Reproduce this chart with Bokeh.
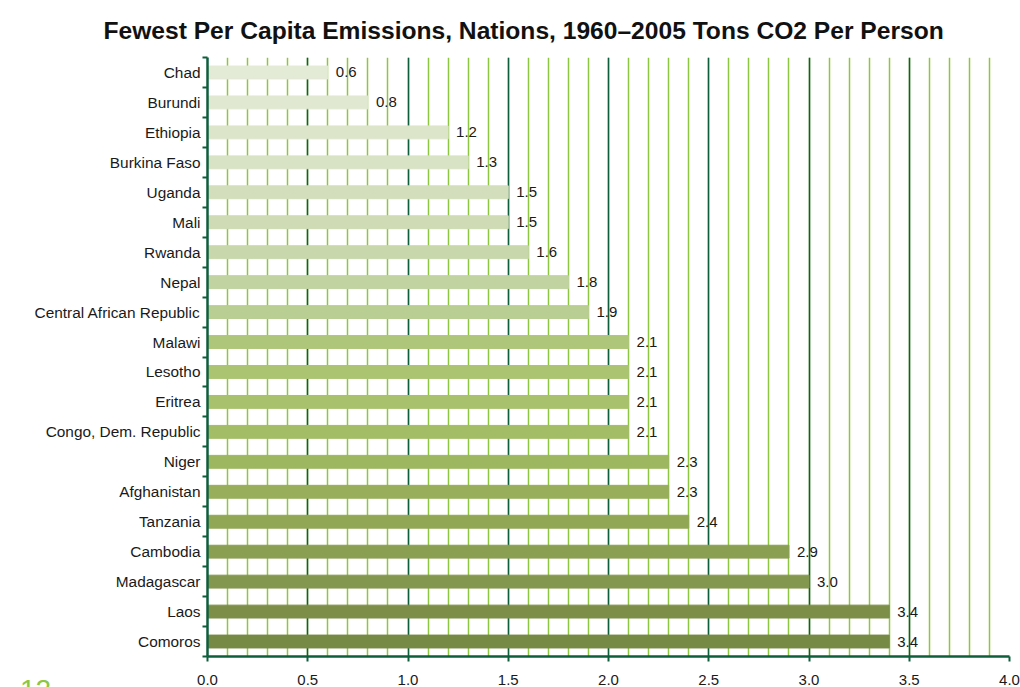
import numpy as np
from bokeh.plotting import figure
from bokeh.layouts import column
from bokeh.models import ColumnDataSource, FixedTicker, SingleIntervalTicker, Range1d, Div
from bokeh.core.properties import value
from bokeh.embed import file_html
from bokeh.resources import INLINE

# Per-capita CO2 emissions, tons per person (cumulative 1960-2005)
countries = [
    "Chad", "Burundi", "Ethiopia", "Burkina Faso", "Uganda", "Mali", "Rwanda",
    "Nepal", "Central African Republic", "Malawi", "Lesotho", "Eritrea",
    "Congo, Dem. Republic", "Niger", "Afghanistan", "Tanzania", "Cambodia",
    "Madagascar", "Laos", "Comoros",
]
emissions = [0.6, 0.8, 1.2, 1.3, 1.5, 1.5, 1.6, 1.8, 1.9, 2.1, 2.1, 2.1,
             2.1, 2.3, 2.3, 2.4, 2.9, 3.0, 3.4, 3.4]
x_ticks = [0.0, 0.5, 1.0, 1.5, 2.0, 2.5, 3.0, 3.5, 4.0]

# pale sage at the top shading to olive at the bottom
bar_colors = [
    "#e3ead6", "#e0e8d1", "#dce5ca", "#d8e2c4", "#d3dfbc", "#cedbb4", "#c9d8ac",
    "#c2d3a2", "#b9ce92", "#aec67a", "#abc472", "#a8c16c", "#a3bd66", "#9db660",
    "#98ae5a", "#92a756", "#8b9f52", "#84974e", "#7c8e48", "#778a45",
]

FONT = "Liberation Sans"
DARK_GREEN = "#0e5e3c"
LIGHT_GREEN = "#8dc63f"

n = len(countries)
ypos = np.arange(n, 0, -1)
source = ColumnDataSource(dict(
    y=ypos,
    value=emissions,
    label=[f"{v:.1f}" for v in emissions],
    color=bar_colors,
))

p = figure(
    width=1020, height=687,
    x_range=Range1d(0, 4.0), y_range=Range1d(0.5, n + 0.5),
    output_backend="svg", toolbar_location=None,
    min_border_left=207, min_border_right=11,
    min_border_top=57, min_border_bottom=30,
)
p.outline_line_color = None
p.background_fill_color = "white"
p.border_fill_color = "white"

# heading
p.title.text = "Fewest Per Capita Emissions, Nations, 1960\u20132005 Tons CO2 Per Person"
p.title.align = "left"
p.title.vertical_align = "top"
p.title.offset = -104
p.title.text_font = FONT
p.title.text_font_style = "bold"
p.title.text_font_size = "24.6px"
p.title.text_color = "#111111"
p.title.standoff = 24

p.hbar(y="y", right="value", left=0, height=0.43, color="color",
       source=source)
p.text(x="value", y="y", text="label", source=source, x_offset=8,
       text_baseline="middle", text_font=value(FONT),
       text_font_size="15px", text_color="#1a1a1a")

# x axis: major every 0.5, minor grid every 0.1
xt = SingleIntervalTicker(interval=0.5, num_minor_ticks=5)
p.xaxis.ticker = xt
p.xgrid.ticker = xt
p.xaxis.major_label_overrides = {t: f"{t:.1f}" for t in x_ticks}
p.xaxis.axis_line_color = DARK_GREEN
p.xaxis.axis_line_width = 2.5
p.xaxis.major_tick_line_color = DARK_GREEN
p.xaxis.major_tick_line_width = 2
p.xaxis.major_tick_out = 5
p.xaxis.major_tick_in = 0
p.xaxis.minor_tick_line_color = None
p.xaxis.major_label_standoff = 13
p.xaxis.major_label_text_font = FONT
p.xaxis.major_label_text_font_size = "15px"
p.xaxis.major_label_text_color = "#1a1a1a"

p.xgrid.grid_line_color = DARK_GREEN
p.xgrid.grid_line_width = 1.5
p.xgrid.minor_grid_line_color = LIGHT_GREEN
p.xgrid.minor_grid_line_width = 1.5
p.ygrid.grid_line_color = None

# y axis: names at bar centres, ticks between bars
p.yaxis.ticker = FixedTicker(ticks=list(ypos),
                             minor_ticks=list(np.arange(0.5, n + 1, 1.0)))
p.yaxis.major_label_overrides = {int(y): c for y, c in zip(ypos, countries)}
p.yaxis.axis_line_color = DARK_GREEN
p.yaxis.axis_line_width = 2.5
p.yaxis.major_tick_line_color = None
p.yaxis.major_tick_out = 0
p.yaxis.major_tick_in = 0
p.yaxis.minor_tick_line_color = DARK_GREEN
p.yaxis.minor_tick_line_width = 2
p.yaxis.minor_tick_out = 5
p.yaxis.minor_tick_in = 0
p.yaxis.major_label_standoff = 2
p.yaxis.major_label_text_font = FONT
p.yaxis.major_label_text_font_size = "15.4px"
p.yaxis.major_label_text_color = "#1a1a1a"

# page number peeking in under the chart's bottom-left corner
page_no = Div(
    text="12",
    margin=(-11, 0, 0, 20),
    styles={"font-family": FONT, "font-size": "28px", "color": LIGHT_GREEN,
            "line-height": "1"},
)

open("out.html", "w").write(file_html(column(p, page_no), INLINE))
